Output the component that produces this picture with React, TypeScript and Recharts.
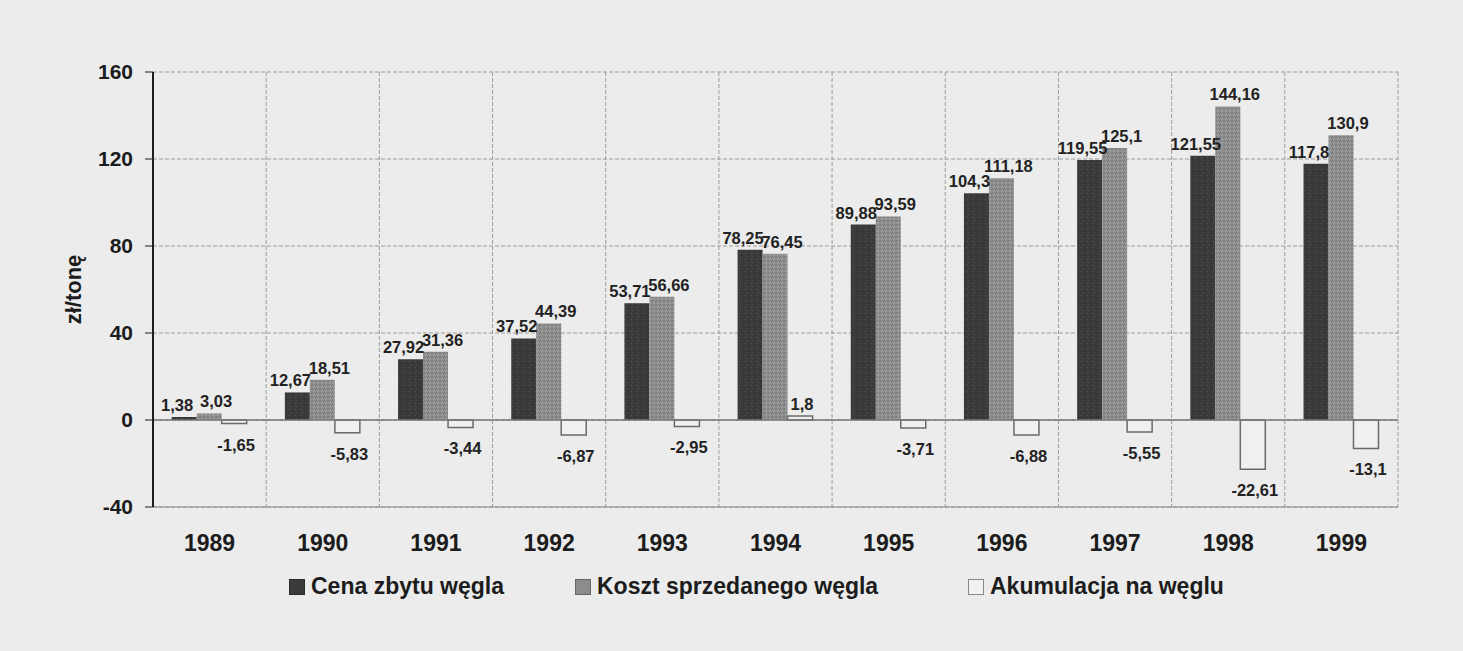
import React from 'react';
import { BarChart, Bar, XAxis, YAxis, CartesianGrid, ReferenceLine, LabelList, Label } from 'recharts';

const years = ['1989', '1990', '1991', '1992', '1993', '1994', '1995', '1996', '1997', '1998', '1999'];
const cena = [1.38, 12.67, 27.92, 37.52, 53.71, 78.25, 89.88, 104.3, 119.55, 121.55, 117.8];
const koszt = [3.03, 18.51, 31.36, 44.39, 56.66, 76.45, 93.59, 111.18, 125.1, 144.16, 130.9];
const akumulacja = [-1.65, -5.83, -3.44, -6.87, -2.95, 1.8, -3.71, -6.88, -5.55, -22.61, -13.1];
const yTicks = [-40, 0, 40, 80, 120, 160];

const seriesNames = ['Cena zbytu węgla', 'Koszt sprzedanego węgla', 'Akumulacja na węglu'];

const data = years.map((y, i) => ({ year: y, cena: cena[i], koszt: koszt[i], akumulacja: akumulacja[i] }));

const FONT = '"Liberation Sans", Arial, sans-serif';
const BG = '#ebeceb';

const fmt = (v: number) => String(v).replace('.', ',');

// labels of the first two series sit a bit apart, like in the scan
const makeLabel = (dx: number) => (props: any) => {
  const { x, y, width, height, value } = props;
  const top = Math.min(y, y + height);
  const bottom = Math.max(y, y + height);
  const cx = x + width / 2 + dx;
  const neg = value < 0;
  return (
    <text
      x={cx}
      y={neg ? bottom + 27 : top - 6}
      textAnchor="middle"
      fontFamily={FONT}
      fontWeight="bold"
      fontSize={16.5}
      fill="#222"
    >
      {fmt(value)}
    </text>
  );
};

const legendItems = [
  { name: seriesNames[0], left: 289, fill: '#3a3a3a', stroke: '#2a2a2a' },
  { name: seriesNames[1], left: 575, fill: '#8c8c8c', stroke: '#666' },
  { name: seriesNames[2], left: 968, fill: '#f2f2f2', stroke: '#888' },
];

export default function App() {
  return (
    <div style={{ position: 'absolute', left: 0, top: 0, width: 1463, height: 651, background: BG, fontFamily: FONT }}>
      <BarChart
        width={1463}
        height={651}
        data={data}
        margin={{ top: 72, right: 65, bottom: 84, left: 0 }}
        barCategoryGap="16.5%"
        barGap={0}
      >
        <defs>
          <pattern id="darkTex" width="6" height="6" patternUnits="userSpaceOnUse">
            <rect width="6" height="6" fill="#3a3a3a" />
            <rect x="1" y="1" width="1" height="1" fill="#555" />
            <rect x="4" y="3" width="1" height="1" fill="#2a2a2a" />
            <rect x="2" y="4" width="1" height="1" fill="#4d4d4d" />
          </pattern>
          <pattern id="grayTex" width="4" height="4" patternUnits="userSpaceOnUse">
            <rect width="4" height="4" fill="#8e8e8e" />
            <rect x="0" y="0" width="1" height="1" fill="#6f6f6f" />
            <rect x="2" y="2" width="1" height="1" fill="#a8a8a8" />
            <rect x="3" y="1" width="1" height="1" fill="#777" />
            <rect x="1" y="3" width="1" height="1" fill="#a0a0a0" />
          </pattern>
        </defs>
        <CartesianGrid
          stroke="#9c9c9c"
          strokeDasharray="4 2"
          verticalCoordinatesGenerator={({ offset }: any) => {
            const n = years.length;
            const step = offset.width / n;
            return Array.from({ length: n }, (_, i) => offset.left + step * (i + 1));
          }}
        />
        <XAxis
          dataKey="year"
          height={60}
          tickLine={false}
          tickSize={0}
          tickMargin={28}
          axisLine={{ stroke: '#8a8a8a' }}
          tick={{ fontFamily: FONT, fontWeight: 'bold', fontSize: 23, fill: '#1c1c1c' }}
        />
        <YAxis
          width={153}
          domain={[-40, 160]}
          ticks={yTicks}
          interval={0}
          tickSize={8}
          tickMargin={12}
          axisLine={{ stroke: '#1e1e1e', strokeWidth: 2 }}
          tickLine={{ stroke: '#1e1e1e' }}
          tick={{ fontFamily: FONT, fontWeight: 'bold', fontSize: 21, fill: '#1c1c1c' }}
        >
          <Label
            value="zł/tonę"
            angle={-90}
            position="center"
            dx={-3}
            style={{ fontFamily: FONT, fontWeight: 'bold', fontSize: 22, fill: '#1c1c1c' }}
          />
        </YAxis>
        <ReferenceLine y={0} stroke="#777" strokeWidth={1.5} />
        <Bar dataKey="cena" name={seriesNames[0]} fill="url(#darkTex)" isAnimationActive={false}>
          <LabelList dataKey="cena" content={makeLabel(-7)} />
        </Bar>
        <Bar dataKey="koszt" name={seriesNames[1]} fill="url(#grayTex)" isAnimationActive={false}>
          <LabelList dataKey="koszt" content={makeLabel(7)} />
        </Bar>
        <Bar
          dataKey="akumulacja"
          name={seriesNames[2]}
          fill="#eff0ef"
          stroke="#6a6a6a"
          strokeWidth={1.5}
          isAnimationActive={false}
        >
          <LabelList dataKey="akumulacja" content={makeLabel(2)} />
        </Bar>
      </BarChart>
      {legendItems.map((it) => (
        <div
          key={it.name}
          style={{
            position: 'absolute',
            top: 573,
            left: it.left,
            display: 'flex',
            alignItems: 'center',
            fontFamily: FONT,
            fontWeight: 'bold',
            fontSize: 23,
            color: '#1c1c1c',
            whiteSpace: 'nowrap',
          }}
        >
          <span
            style={{
              display: 'inline-block',
              width: 14,
              height: 14,
              background: it.fill,
              border: `1px solid ${it.stroke}`,
              marginRight: 6,
            }}
          />
          {it.name}
        </div>
      ))}
    </div>
  );
}
